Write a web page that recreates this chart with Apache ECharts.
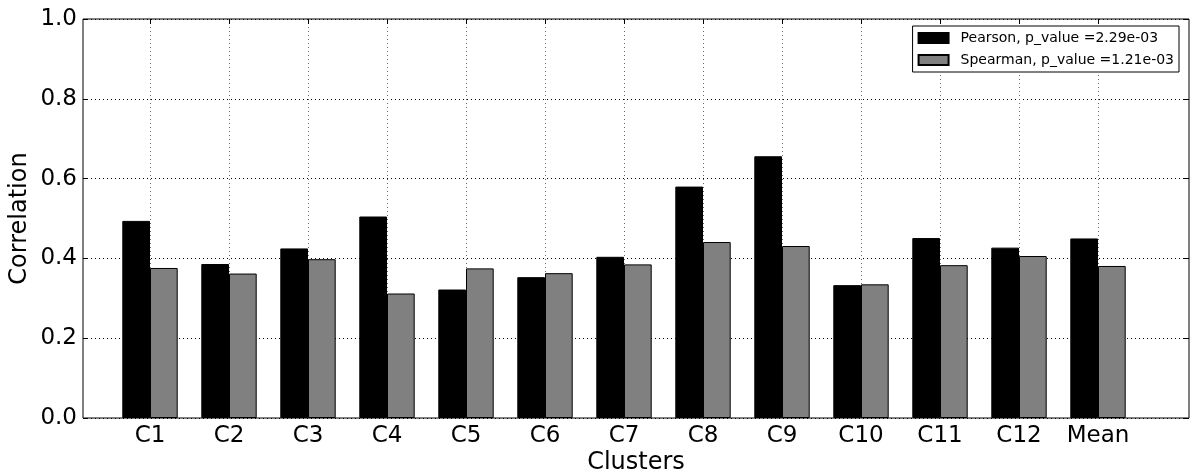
<!DOCTYPE html>
<html>
<head>
<meta charset="utf-8">
<script src="https://cdn.jsdelivr.net/npm/echarts@6/dist/echarts.min.js"></script>
<style>
html,body{margin:0;padding:0;background:#fff;overflow:hidden;}
#chart{width:1195px;height:476px;}
</style>
</head>
<body>
<div id="chart"></div>
<script>
const categories = ['C1','C2','C3','C4','C5','C6','C7','C8','C9','C10','C11','C12','Mean'];
const pearson = [0.494,0.386,0.425,0.505,0.322,0.353,0.404,0.580,0.656,0.333,0.451,0.427,0.450];
const spearman = [0.376,0.362,0.398,0.312,0.375,0.363,0.385,0.441,0.431,0.335,0.383,0.406,0.381];
const yTicks = [0.0,0.2,0.4,0.6,0.8,1.0];
const seriesNames = ['Pearson, p_value =2.29e-03','Spearman, p_value =1.21e-03'];

const FONT = 'DejaVu Sans';
const chart = echarts.init(document.getElementById('chart'), null, {renderer:'canvas', width:1195, height:476});
const dottedH = {color:'#000', type:[1,3], width:1};
const dottedV = {color:'#666', type:[1,3], width:1};

chart.setOption({
  animation:false,
  backgroundColor:'#fff',
  textStyle:{fontFamily:FONT},
  grid:[
    {left:83, right:6, top:19, bottom:58, show:true, borderColor:'#000', borderWidth:1, backgroundColor:'transparent', containLabel:false, outerBoundsMode:'none'},
    {left:150, right:97, top:19, bottom:58, containLabel:false, outerBoundsMode:'none'}
  ],
  xAxis:[
    {gridIndex:0, type:'value', min:0, max:1, axisLine:{show:false}, axisTick:{show:false}, axisLabel:{show:false}, splitLine:{show:false},
     name:'Clusters', nameLocation:'middle', nameGap:33, nameMoveOverlap:false, nameTextStyle:{fontSize:24, color:'#000', fontFamily:FONT}},
    {gridIndex:1, type:'category', data:categories, boundaryGap:false, position:'bottom',
     axisLine:{show:false}, axisTick:{show:true, inside:true, length:5, lineStyle:{color:'#000'}},
     axisLabel:{fontSize:23, color:'#000', margin:7, fontFamily:FONT, interval:0},
     splitLine:{show:true, lineStyle:dottedV}},
    {gridIndex:1, type:'category', data:categories, boundaryGap:false, position:'top',
     axisLine:{show:false}, axisTick:{show:true, inside:true, length:5, lineStyle:{color:'#000'}, interval:0},
     axisLabel:{show:false}, splitLine:{show:false}}
  ],
  yAxis:[
    {gridIndex:0, type:'value', min:yTicks[0], max:yTicks[yTicks.length-1], interval:0.2, position:'left',
     axisLine:{show:false}, axisTick:{show:true, inside:true, length:5, lineStyle:{color:'#000'}},
     axisLabel:{fontSize:23, color:'#000', margin:6, fontFamily:FONT, formatter:v=>v.toFixed(1)},
     splitLine:{show:true, lineStyle:dottedH},
     name:'Correlation', nameLocation:'middle', nameGap:51, nameMoveOverlap:false, nameTextStyle:{fontSize:24, color:'#000', fontFamily:FONT}},
    {gridIndex:0, type:'value', min:0, max:1, interval:0.2, position:'right',
     axisLine:{show:false}, axisTick:{show:true, inside:true, length:5, lineStyle:{color:'#000'}},
     axisLabel:{show:false}, splitLine:{show:false}},
    {gridIndex:1, type:'value', min:0, max:1, show:false}
  ],
  legend:{
    right:16, top:26, orient:'vertical', data:seriesNames,
    backgroundColor:'#fff', borderColor:'#000', borderWidth:1, padding:[5,5,5,5], itemGap:8,
    itemWidth:30, itemHeight:10, icon:'rect',
    textStyle:{fontSize:14, color:'#000', fontFamily:FONT, padding:[0,0,0,7]}
  },
  series:[
    {name:seriesNames[0], type:'bar', xAxisIndex:1, yAxisIndex:2, data:pearson, barWidth:27.7, barGap:'0%', clip:false,
     itemStyle:{color:'#000', borderColor:'#000', borderWidth:1}},
    {name:seriesNames[1], type:'bar', xAxisIndex:1, yAxisIndex:2, data:spearman, barWidth:27.7, barGap:'0%', clip:false,
     itemStyle:{color:'#808080', borderColor:'#000', borderWidth:1}}
  ]
});
</script>
</body>
</html>
